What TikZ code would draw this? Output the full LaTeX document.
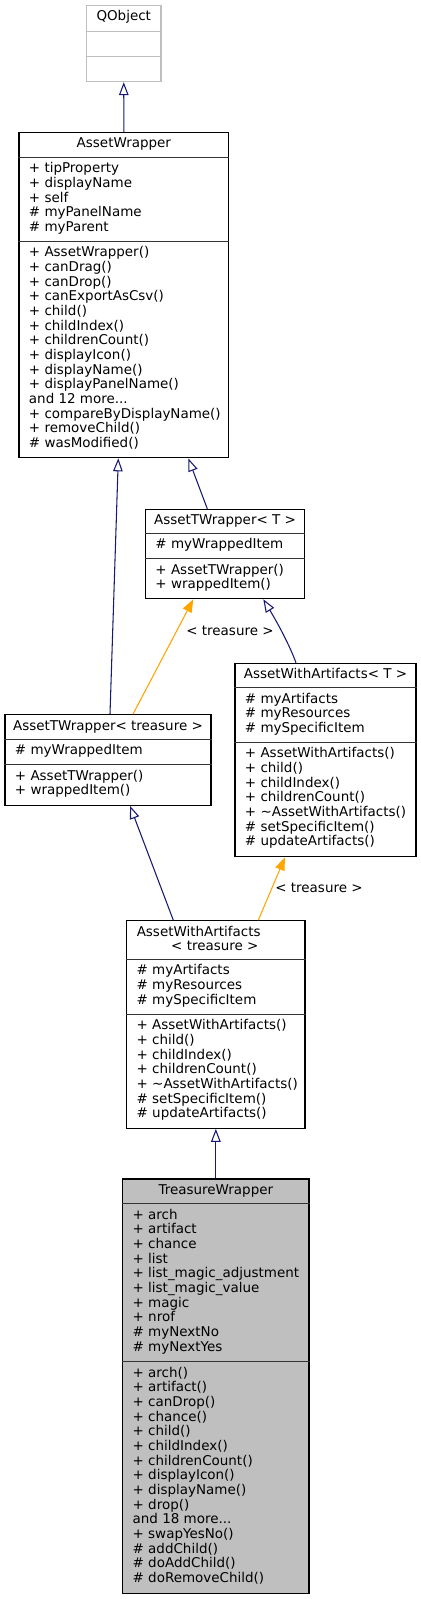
\documentclass[tikz,border=0pt]{standalone}
\usepackage{fontspec}
\setmainfont{DejaVu Sans}
\usetikzlibrary{arrows.meta,calc,fit}
\definecolor{edgeblue}{HTML}{191970}
\definecolor{edgeorange}{HTML}{FFA500}
\definecolor{ghostgray}{HTML}{BFBFBF}
\definecolor{focusgray}{HTML}{BFBFBF}
\newcommand\moredots{...}
\tikzset{
  box/.style={draw=black, fill=white, line width=0.8pt, inner sep=0pt},
  ghostbox/.style={draw=ghostgray, fill=white, line width=0.8pt, inner sep=0pt},
  focusbox/.style={draw=black, fill=focusgray, line width=0.8pt, inner sep=0pt},
  divider/.style={draw=black!80, line width=0.8pt},
  ghostdivider/.style={draw=ghostgray, line width=0.8pt},
  txt/.style={inner sep=0pt, outer sep=0pt, font=\fontsize{10.1}{11}\selectfont},
  inherit/.style={draw=edgeblue, line width=0.8pt, -{Triangle[open, length=9.75pt, width=7.2pt]}},
  tmpl/.style={draw=edgeorange, line width=0.8pt, -{Triangle[length=9.75pt, width=7.2pt]}},
}
\newcommand\classtext[4]{%
  \foreach \t [count=\i from 0] in {#4}
    \node[txt, anchor=base west] (#1-#2\i) at ($(#1.north west)+(10.5,{#3+\i*14.667})$) {\t};}
\newcommand\classdiv[3][divider]{%
  \draw[#1] ($(#2.north west)+(0,#3)$) -- ($(#2.north east)+(0,#3)$);}
\begin{document}
\begin{tikzpicture}[x=0.75pt, y=-0.75pt]
\useasboundingbox (0,0) rectangle (421,1599);

% QObject
\node[ghostbox, fit={(86.5,5.7) (161,81.7)}] (qo) {};
\classdiv[ghostdivider]{qo}{26}
\classdiv[ghostdivider]{qo}{51}
\node[txt, anchor=base] (qo-title) at ($(qo.north)+(0,15.8)$) {QObject};

% AssetWrapper
\node[box, fit={(19,132.3) (228.7,457.8)}] (aw) {};
\classdiv{aw}{25.4}
\classdiv{aw}{109.7}
\node[txt, anchor=base] (aw-title) at ($(aw.north)+(0,16)$) {AssetWrapper};
\classtext{aw}{a}{40.9}{+ tipProperty, + displayName, + self, \# myPanelName, \# myParent}
\classtext{aw}{m}{125.2}{+ AssetWrapper(), + canDrag(), + canDrop(), + canExportAsCsv(), + child(), + childIndex(), + childrenCount(), + displayIcon(), + displayName(), + displayPanelName(), and 12 more\moredots, + compareByDisplayName(), + removeChild(), \# wasModified()}

% AssetTWrapper< T >
\node[box, fit={(145.5,509.3) (304.5,598.7)}] (atT) {};
\classdiv{atT}{24.4}
\classdiv{atT}{50}
\node[txt, anchor=base] (atT-title) at ($(atT.north)+(0,16)$) {AssetTWrapper< T >};
\classtext{atT}{a}{39.9}{\# myWrappedItem}
\classtext{atT}{m}{65.5}{+ AssetTWrapper(), + wrappedItem()}

% AssetWithArtifacts< T >
\node[box, fit={(235,663.3) (416,856.7)}] (awaT) {};
\classdiv{awaT}{25}
\classdiv{awaT}{79.7}
\node[txt, anchor=base] (awaT-title) at ($(awaT.north)+(0,16)$) {AssetWithArtifacts< T >};
\classtext{awaT}{a}{40.5}{\# myArtifacts, \# myResources, \# mySpecificItem}
\classtext{awaT}{m}{95.2}{+ AssetWithArtifacts(), + child(), + childIndex(), + childrenCount(), + \textasciitilde AssetWithArtifacts(), \# setSpecificItem(), \# updateArtifacts()}

% AssetTWrapper< treasure >
\node[box, fit={(5,714.7) (211,805.3)}] (atr) {};
\classdiv{atr}{25.3}
\classdiv{atr}{50.6}
\node[txt, anchor=base] (atr-title) at ($(atr.north)+(0,16)$) {AssetTWrapper< treasure >};
\classtext{atr}{a}{40.8}{\# myWrappedItem}
\classtext{atr}{m}{66.1}{+ AssetTWrapper(), + wrappedItem()}

% AssetWithArtifacts< treasure >
\node[box, fit={(126.7,920.7) (305,1128.3)}] (awar) {};
\classdiv{awar}{39.3}
\classdiv{awar}{94.3}
\node[txt, anchor=base west] (awar-title1) at ($(awar.north west)+(10.6,16)$) {AssetWithArtifacts};
\node[txt, anchor=base] (awar-title2) at ($(awar.north)+(-1,30.7)$) {< treasure >};
\classtext{awar}{a}{54.8}{\# myArtifacts, \# myResources, \# mySpecificItem}
\classtext{awar}{m}{109.8}{+ AssetWithArtifacts(), + child(), + childIndex(), + childrenCount(), + \textasciitilde AssetWithArtifacts(), \# setSpecificItem(), \# updateArtifacts()}

% TreasureWrapper
\node[focusbox, fit={(122.7,1179) (309,1593.3)}] (tw) {};
\classdiv{tw}{25.3}
\classdiv{tw}{183.3}
\node[txt, anchor=base] (tw-title) at ($(tw.north)+(0,16)$) {TreasureWrapper};
\classtext{tw}{a}{40.8}{+ arch, + artifact, + chance, + list, + list\_magic\_adjustment, + list\_magic\_value, + magic, + nrof, \# myNextNo, \# myNextYes}
\classtext{tw}{m}{198.8}{+ arch(), + artifact(), + canDrop(), + chance(), + child(), + childIndex(), + childrenCount(), + displayIcon(), + displayName(), + drop(), and 18 more\moredots, + swapYesNo(), \# addChild(), \# doAddChild(), \# doRemoveChild()}

% connectors
\draw[inherit] (aw.north) -- (qo.south);
\draw[inherit] ($(atT.north)+(-17.7,0)$) -- ($(aw.south)+(64.45,0)$);
\draw[inherit] ($(atr.north)+(2,0)$) -- ($(aw.south)+(-5.55,0)$);
\draw[tmpl] ($(atr.north)+(25,0)$) -- ($(atT.south)+(-31.7,0)$);
\node[txt] (lbl1) at (230,631) {< treasure >};
\draw[inherit] ($(awaT.north)+(-29.5,0)$) .. controls ($(awaT.north)+(-37.5,-22)$) and ($(atT.south)+(47.3,15)$) .. ($(atT.south)+(38.3,0)$);
\draw[inherit] ($(awar.north)+(-42.55,0)$) -- ($(atr.south)+(22,0)$);
\draw[tmpl] ($(awar.north)+(42.45,0)$) -- ($(awaT.south)+(-40.5,0)$);
\node[txt] (lbl2) at (319,888) {< treasure >};
\draw[inherit] (tw.north) -- (awar.south);
\end{tikzpicture}
\end{document}
